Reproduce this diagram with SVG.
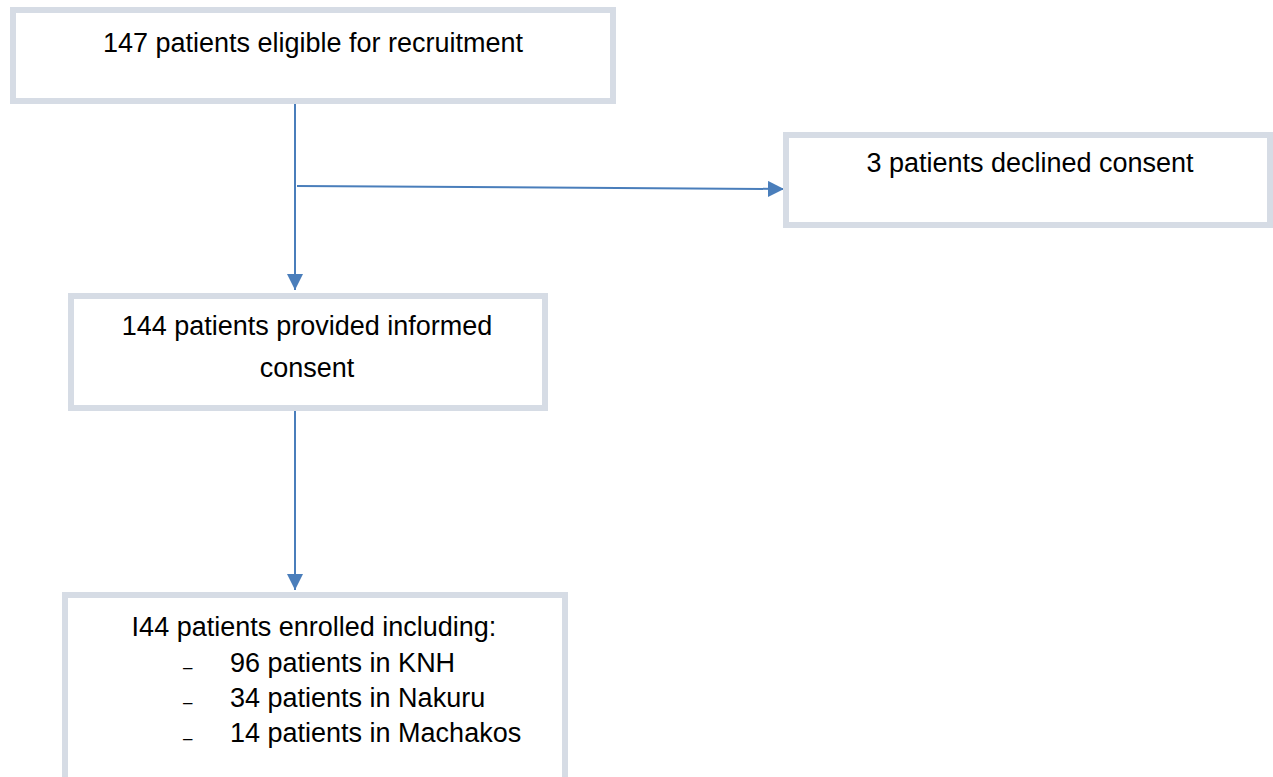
<svg xmlns="http://www.w3.org/2000/svg" width="1273" height="777" viewBox="0 0 1273 777">
<defs>
<style>
.box{fill:#ffffff;stroke:#d6dce5;stroke-width:6}
.t{font-family:"Liberation Sans",Arial,sans-serif;font-size:27px;fill:#000000}
.d{font-family:"Liberation Sans",Arial,sans-serif;font-size:17px;fill:#000000}
.c{stroke:#4a7ebb;stroke-width:2;fill:none}
</style>
<marker id="ah2" viewBox="0 0 10 10" refX="10" refY="5" markerWidth="16" markerHeight="16" markerUnits="userSpaceOnUse" orient="auto">
<path d="M0,0 L10,5 L0,10 Z" fill="#4a7ebb"/>
</marker>
</defs>
<g id="connectors">
<line class="c" x1="295" y1="103" x2="295" y2="290" marker-end="url(#ah2)"/>
<line class="c" x1="297" y1="186" x2="784" y2="189" marker-end="url(#ah2)"/>
<line class="c" x1="295" y1="410" x2="295" y2="590" marker-end="url(#ah2)"/>
</g>
<g id="n1">
<rect class="box" x="13" y="10" width="600" height="91"/>
<text class="t" x="313" y="52" text-anchor="middle">147 patients eligible for recruitment</text>
</g>
<g id="n2">
<rect class="box" x="786" y="135" width="484" height="90"/>
<text class="t" x="1030" y="172" text-anchor="middle">3 patients declined consent</text>
</g>
<g id="n3">
<rect class="box" x="71" y="296" width="474" height="112"/>
<text class="t" x="307" y="335" text-anchor="middle">144 patients provided informed</text>
<text class="t" x="307" y="377" text-anchor="middle">consent</text>
</g>
<g id="n4">
<rect class="box" x="65" y="595" width="500" height="190"/>
<text class="t" x="314" y="636" text-anchor="middle">I44 patients enrolled including:</text>
<text class="d" x="183" y="673">–</text>
<text class="t" x="230" y="672">96 patients in KNH</text>
<text class="d" x="183" y="708">–</text>
<text class="t" x="230" y="707">34 patients in Nakuru</text>
<text class="d" x="183" y="744">–</text>
<text class="t" x="230" y="742">14 patients in Machakos</text>
</g>
</svg>
